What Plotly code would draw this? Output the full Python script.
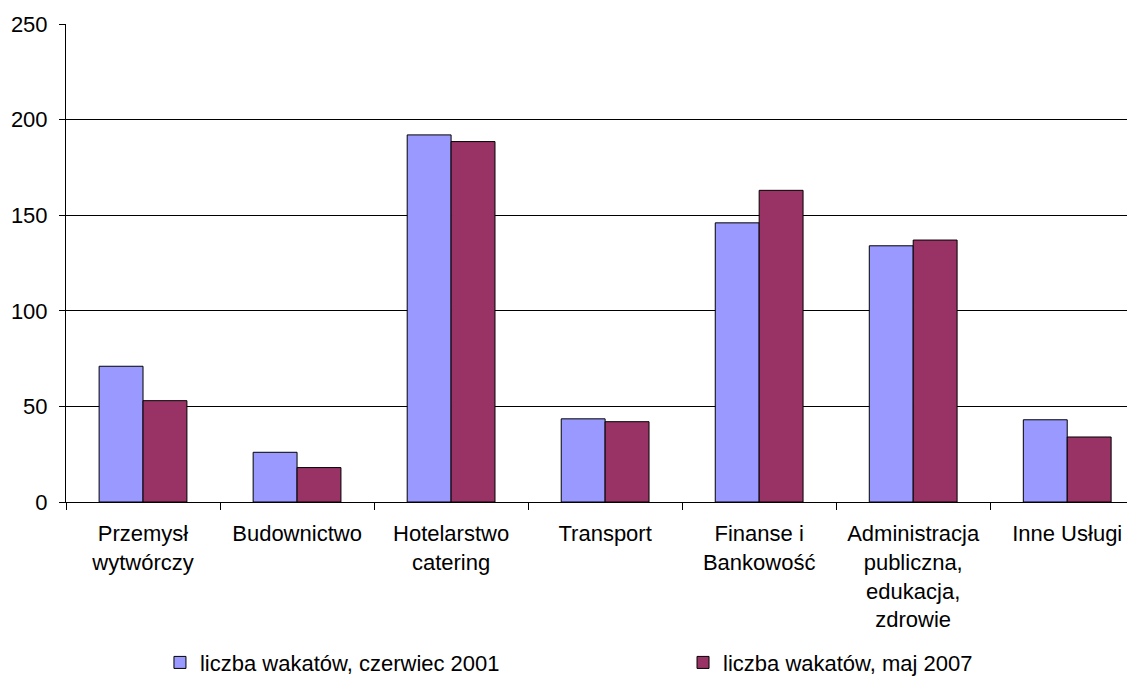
import plotly.graph_objects as go

categories = [
    "Przemysł<br>wytwórczy",
    "Budownictwo",
    "Hotelarstwo<br>catering",
    "Transport",
    "Finanse i<br>Bankowość",
    "Administracja<br>publiczna,<br>edukacja,<br>zdrowie",
    "Inne Usługi",
]
wakaty_2001 = [71, 26, 192, 43.5, 146, 134, 43]
wakaty_2007 = [53, 18, 188.5, 42, 163, 137, 34]
y_ticks = [0, 50, 100, 150, 200, 250]

font_family = "Liberation Sans, Arial, sans-serif"

fig = go.Figure()
fig.add_trace(go.Bar(x=categories, y=wakaty_2001, name="liczba wakatów, czerwiec 2001",
                     legend="legend",
                     marker=dict(color="#9999FF", line=dict(color="black", width=1))))
fig.add_trace(go.Bar(x=categories, y=wakaty_2007, name="liczba wakatów, maj 2007",
                     legend="legend2",
                     marker=dict(color="#993366", line=dict(color="black", width=1))))

legend_style = dict(
    orientation="h",
    xanchor="left",
    y=-0.336,
    yanchor="middle",
    font=dict(size=22),
    bgcolor="rgba(0,0,0,0)",
)

# the page body adds an 8px offset, so the figure is 8px smaller than the window
fig.update_layout(
    width=1127,
    height=669,
    margin=dict(l=58, r=0, t=16, b=175, autoexpand=False),
    paper_bgcolor="white",
    plot_bgcolor="white",
    barmode="group",
    bargap=0.43,
    bargroupgap=0,
    font=dict(family=font_family, size=22, color="black"),
    showlegend=True,
    legend=dict(x=0.0879, **legend_style),
    legend2=dict(x=0.5772, **legend_style),
)

fig.update_xaxes(
    type="category",
    range=[-0.5, 6.44],
    showline=True,
    linecolor="black",
    linewidth=1,
    ticks="outside",
    tickson="boundaries",
    ticklen=7,
    tickcolor="black",
    showgrid=False,
    automargin=False,
    ticklabelstandoff=12,
)
fig.update_yaxes(
    range=[0, 250],
    tickvals=y_ticks,
    showline=True,
    linecolor="black",
    linewidth=1,
    ticks="outside",
    ticklen=6,
    tickcolor="black",
    showgrid=True,
    gridcolor="black",
    gridwidth=1,
    zeroline=False,
    automargin=False,
    ticklabelstandoff=7,
)

fig.write_html("out.html")
